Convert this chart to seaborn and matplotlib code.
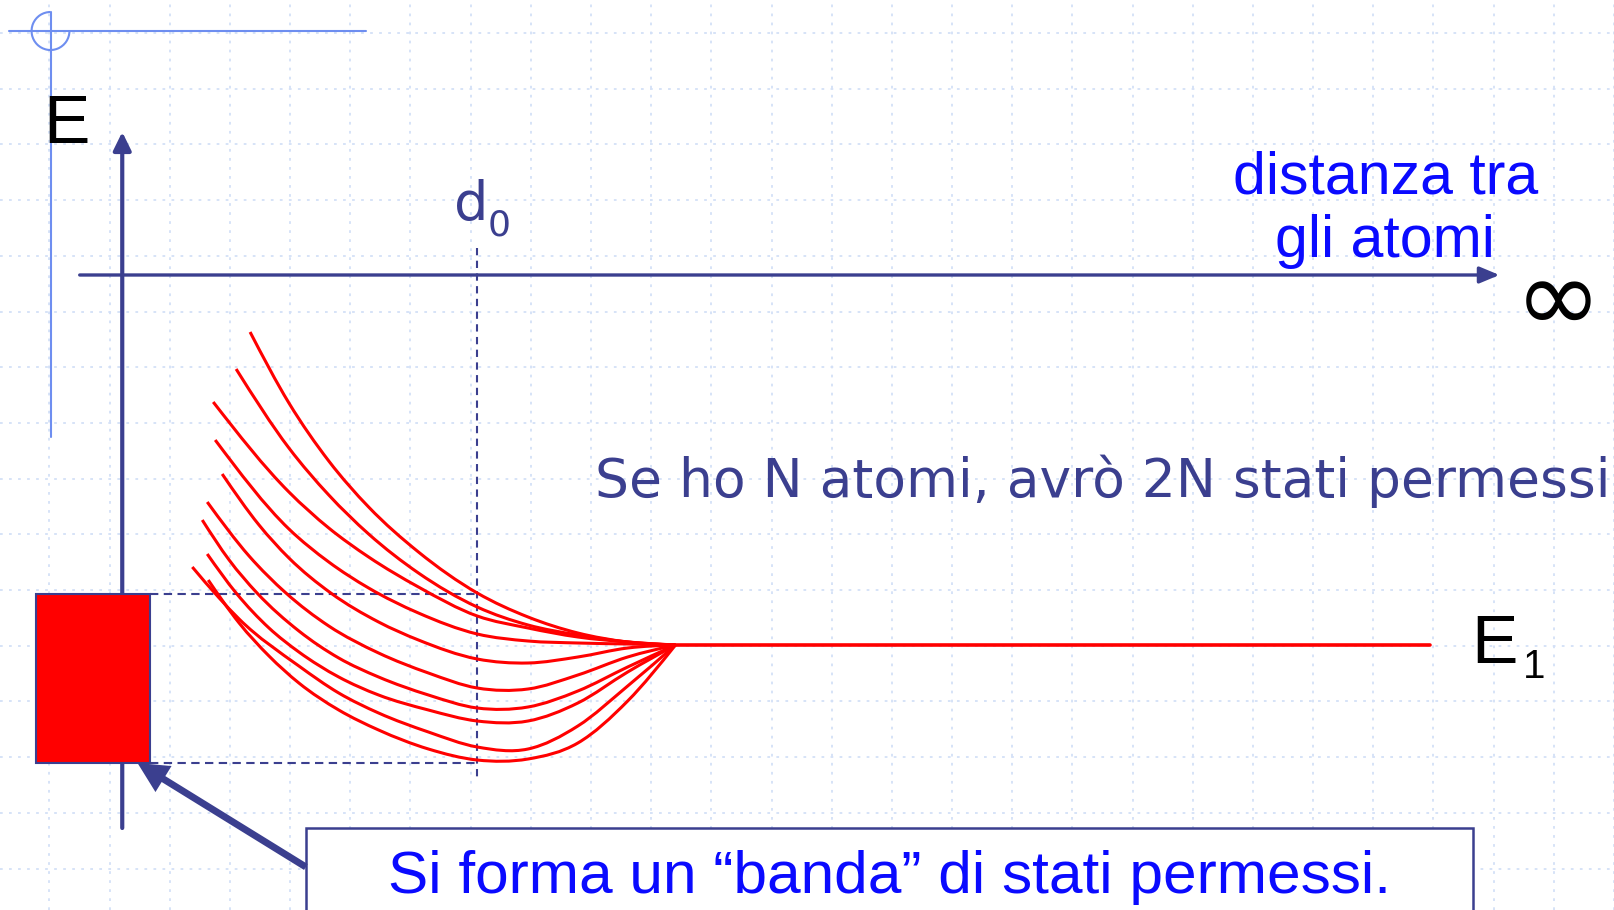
import matplotlib
matplotlib.use("Agg")
import numpy as np
import pandas as pd
import matplotlib.pyplot as plt
import seaborn as sns
from matplotlib.path import Path
from matplotlib.patches import PathPatch, Rectangle, Arc, FancyArrowPatch

# the slide is drawn in pixel units, y pointing down
W, H = 1614, 910

# red energy levels (one list per level)
band_x = [
    [251, 290, 330, 370, 420, 479, 530, 580, 630, 678],
    [237, 290, 330, 370, 420, 479, 530, 580, 630, 678],
    [214, 290, 330, 370, 420, 479, 530, 580, 630, 678],
    [216, 290, 330, 370, 420, 479, 530, 580, 630, 678],
    [223, 260, 290, 332, 380, 420, 479, 530, 580, 630, 678],
    [208, 250, 287, 330, 380, 430, 479, 530, 580, 630, 678],
    [203, 230, 258, 300, 340, 380, 430, 479, 530, 580, 630, 678],
    [208, 237, 270, 300, 340, 380, 430, 479, 530, 580, 630, 678],
    [193, 220, 240, 300, 340, 380, 430, 479, 530, 580, 630, 678],
    [209, 240, 270, 300, 340, 380, 430, 479, 530, 580, 630, 678],
]
band_y = [
    [332, 403, 461, 507, 552, 593, 617, 633, 642, 645],
    [369, 448, 495, 534, 573, 607, 625, 635, 642, 645],
    [402, 492, 528, 557, 587, 616, 628, 637, 642, 645],
    [440, 529, 562, 588, 613, 634, 641, 643, 644, 645],
    [474, 525, 558, 593, 622, 640, 659, 663, 657, 648, 645],
    [502, 556, 593, 626, 653, 673, 688, 689, 675, 657, 645],
    [520, 560, 593, 631, 658, 677, 695, 708, 707, 691, 667, 645],
    [554, 593, 628, 652, 677, 695, 710, 721, 721, 703, 672, 645],
    [567, 598, 619, 666, 693, 713, 732, 747, 749, 726, 686, 645],
    [580, 623, 656, 683, 710, 730, 749, 760, 759, 743, 701, 645],
]

# isolated atom level E1
level_x = [678, 1435]
level_y = [645, 645]

# band of allowed states (top / bottom of the levels at d0)
d0_x = 479
band_top, band_bottom = 594, 763

# background grid of the slide
grid_x = [49.6 + 60.4 * k for k in range(27)]
grid_y = [33 + 55.7 * k for k in range(16)]

navy = "#3b3f8f"
blue = "#0a0aff"
light = "#6e8ef0"
red = "#ff0000"

sns.set_theme(style="white")
plt.rcParams["font.family"] = ["DejaVu Sans"]

fig = plt.figure(figsize=(W / 100, H / 100), dpi=100)
ax = fig.add_axes([0, 0, 1, 1])
ax.set_xlim(0, W)
ax.set_ylim(H, 0)
ax.set_xticks(grid_x)
ax.set_yticks(grid_y)
ax.tick_params(length=0, labelbottom=False, labelleft=False)
for s in ax.spines.values():
    s.set_visible(False)
ax.grid(True, color="#d3e0f7", lw=1.3, linestyle=(0, (1.5, 3.5)))
ax.set_axisbelow(True)


def smooth_path(xs, ys):
    # hermite curve through the read points (slopes from neighbouring chords)
    x = np.asarray(xs, float)
    y = np.asarray(ys, float)
    h = np.diff(x)
    d = np.diff(y) / h
    m = np.empty_like(x)
    m[1:-1] = (d[:-1] * h[1:] + d[1:] * h[:-1]) / (h[:-1] + h[1:])
    m[0] = 1.5 * d[0] - 0.5 * m[1]
    m[-1] = 1.5 * d[-1] - 0.5 * m[-2]
    verts = [(x[0], y[0])]
    codes = [Path.MOVETO]
    for i in range(len(x) - 1):
        k = h[i] / 3
        verts += [(x[i] + k, y[i] + m[i] * k), (x[i + 1] - k, y[i + 1] - m[i + 1] * k), (x[i + 1], y[i + 1])]
        codes += [Path.CURVE4] * 3
    return Path(verts, codes)


for xs, ys in zip(band_x, band_y):
    ax.add_patch(PathPatch(smooth_path(xs, ys), fill=False, edgecolor=red, lw=2.2, zorder=4))

lvl = pd.DataFrame({"x": level_x, "y": level_y})
sns.lineplot(data=lvl, x="x", y="y", color=red, lw=2.6, ax=ax, zorder=4)

# slide registration mark
ax.plot([9, 367], [31, 31], color=light, lw=1.5)
ax.plot([50.7, 50.7], [12, 437], color=light, lw=1.5)
ax.add_patch(Arc((50.7, 31), 38, 38, theta1=0, theta2=270, color=light, lw=1.5))

# axes of the diagram
ax.add_patch(FancyArrowPatch((122.7, 828), (122.7, 132), arrowstyle="-|>,head_length=0.55,head_width=0.27",
                             mutation_scale=20, color=navy, lw=3, shrinkA=0, shrinkB=0, zorder=3))
ax.add_patch(FancyArrowPatch((80, 275), (1505, 275), arrowstyle="-|>,head_length=0.6,head_width=0.25",
                             mutation_scale=20, color=navy, lw=2.4, shrinkA=0, shrinkB=0, zorder=3))

# dashed guides
ax.plot([d0_x, d0_x], [248, 779], color=navy, lw=1.5, linestyle=(0, (3.5, 2.6)), zorder=3)
ax.plot([151, d0_x], [band_top, band_top], color=navy, lw=1.5, linestyle=(0, (4, 2.6)), zorder=3)
ax.plot([151, d0_x], [band_bottom, band_bottom], color=navy, lw=1.5, linestyle=(0, (4, 2.6)), zorder=3)

# the band
ax.add_patch(Rectangle((36, band_top), 115, band_bottom - band_top, facecolor=red,
                       edgecolor=navy, lw=1.5, zorder=5))

# caption box and arrow
ax.add_patch(Rectangle((307, 828), 1171, 120, facecolor="white", edgecolor=navy, lw=1.8, zorder=5))
ax.add_patch(FancyArrowPatch((307, 867), (138, 763), arrowstyle="simple,head_length=2.2,head_width=2.2,tail_width=0.5",
                             mutation_scale=10, color=navy, lw=0, shrinkA=0, shrinkB=0, zorder=6))

# texts
arial = ["Liberation Sans", "DejaVu Sans"]
ax.text(43, 143, "E", fontsize=50, color="black", family=arial, va="baseline", ha="left")
ax.text(1477, 663, "E", fontsize=50, color="black", family=arial, va="baseline", ha="left")
ax.text(1529, 678, "1", fontsize=29, color="black", family=arial, va="baseline", ha="left")
ax.text(456, 220, "d", fontsize=39, color=navy, va="baseline", ha="left")
ax.text(489, 236, "0", fontsize=26, color=navy, va="baseline", ha="left")
ax.text(1391, 193, "distanza tra", fontsize=42.5, color=blue, family=arial, va="baseline", ha="center")
ax.text(1390, 257, "gli atomi", fontsize=42.5, color=blue, family=arial, va="baseline", ha="center")
ax.text(1564, 332, "\u221e", fontsize=75, color="black", va="baseline", ha="center")
ax.text(597, 497, "Se ho N atomi, avrò 2N stati permessi", fontsize=38.5, color=navy,
        va="baseline", ha="left")
ax.text(389, 893, "Si forma un \u201cbanda\u201d di stati permessi.", fontsize=43.5, color=blue,
        family=arial, va="baseline", ha="left", zorder=7)

fig.savefig("out.png", dpi=100)
